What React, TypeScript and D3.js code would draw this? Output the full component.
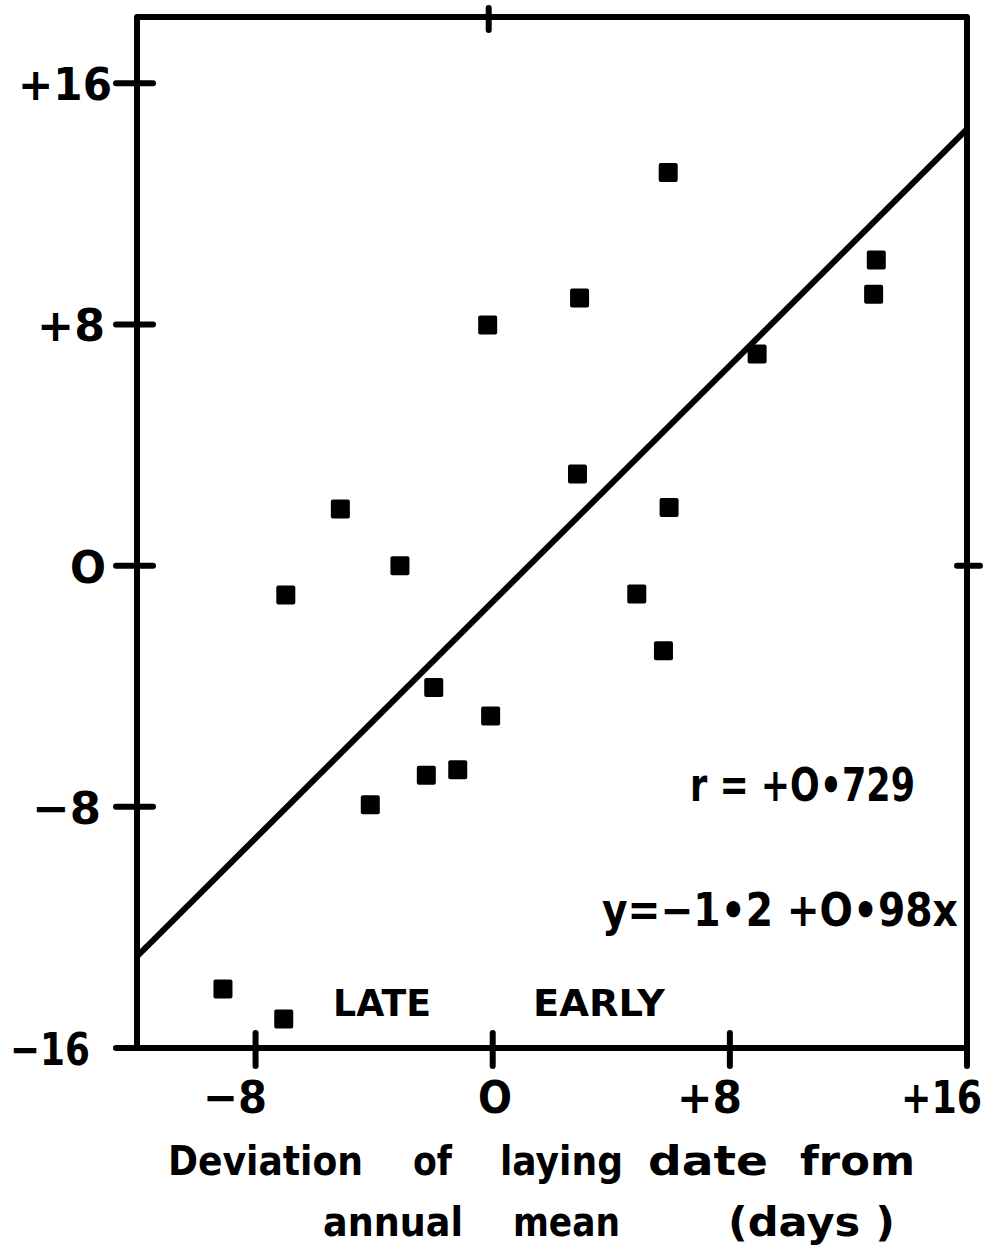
import React, { useLayoutEffect, useRef, useState } from "react";
import * as d3 from "d3";

// Deviation of laying date from annual mean (days)
const xValues = [-9.1, -7.05, -6.98, -5.14, -3.13, -4.13, -2.24, -1.99, -1.18, -0.07, -0.17, 2.93, 2.86, 5.92, 5.95, 4.86, 5.76, 8.92, 12.94, 12.85];
const yValues = [-14.04, -15.04, -0.97, 1.88, 0, -7.93, -6.95, -4.04, -6.77, -4.99, 7.98, 8.88, 3.04, 13.04, 1.93, -0.94, -2.82, 7.02, 10.14, 9.0];

const xTicks = [-8, 0, 8, 16];
const yTicks = [-16, -8, 0, 8, 16];
const xTickLabels = ["−8", "O", "+8", "+16"];
const yTickLabels = ["−16", "−8", "O", "+8", "+16"];

const regIntercept = -1.2;
const regSlope = 0.98;
const rLabel = "r = +O•729";
const eqLabel = "y=−1•2 +O•98x";
const lateLabel = "LATE";
const earlyLabel = "EARLY";
const titleLine1 = ["Deviation", "of", "laying", "date", "from"];
const titleLine2 = ["annual", "mean", "(days )"];

const W = 987;
const H = 1252;
const FONT = "'DejaVu Sans', sans-serif";

function FitText({ x, y, w, size, text }: { x: number; y: number; w: number; size: number; text: string }) {
  const ref = useRef<SVGTextElement>(null);
  const [s, setS] = useState(1);
  useLayoutEffect(() => {
    if (ref.current) {
      const n = ref.current.getComputedTextLength();
      if (n > 0) setS(w / n);
    }
  }, [w, text, size]);
  return (
    <text ref={ref} transform={`translate(${x},${y}) scale(${s},1)`} fontFamily={FONT} fontWeight="bold" fontSize={size}>
      {text}
    </text>
  );
}

export default function App() {
  const x = d3.scaleLinear().domain([-12, 16]).range([137, 967]);
  const y = d3.scaleLinear().domain([-16, 18.2]).range([1048, 17]);
  const left = x(-12), right = x(16), bottom = y(-16), top = y(18.2);

  const line = d3.line<number>().x((v) => x(v)).y((v) => y(regIntercept + regSlope * v));
  const regPath = line([-12, 16]) || "";

  const pts = xValues.map((v, i) => ({ x: v, y: yValues[i] }));
  const sq = 19;

  // layout for title words
  const line1X = [168, 413, 500, 648, 800];
  const line1W = [195, 39, 123, 120, 115];
  const line2X = [323, 513, 728];
  const line2W = [140, 107, 167];

  const yLabelStart = [10, 32, 70, 37, 18];
  const yLabelW = [80, 69, 36, 68, 94];
  const xLabelStart = [203, 478, 677, 901];
  const xLabelW = [64, 34, 65, 81];

  return (
    <svg width={W} height={H} viewBox={`0 0 ${W} ${H}`} style={{ display: "block", position: "absolute", left: 0, top: 0, background: "#fff" }}>
      <rect x={0} y={0} width={W} height={H} fill="#fff" />
      {/* frame */}
      <rect x={left} y={top} width={right - left} height={bottom - top} fill="none" stroke="#000" strokeWidth={6} strokeLinejoin="round" />
      {/* left ticks */}
      {yTicks.map((t) => (
        <line key={"yl" + t} x1={left - 21} x2={left + 16} y1={y(t)} y2={y(t)} stroke="#000" strokeWidth={6} strokeLinecap="round" />
      ))}
      {/* bottom ticks */}
      {xTicks.map((t) => (
        <line key={"xb" + t} x1={x(t)} x2={x(t)} y1={bottom - 15} y2={bottom + 18} stroke="#000" strokeWidth={6} strokeLinecap="round" />
      ))}
      {/* top tick at 0 and right tick at 0 */}
      <line x1={x(0) - 4} x2={x(0) - 4} y1={top - 9} y2={top + 13} stroke="#000" strokeWidth={6} strokeLinecap="round" />
      <line x1={right - 10} x2={right + 13} y1={y(0)} y2={y(0)} stroke="#000" strokeWidth={6} strokeLinecap="round" />
      {/* regression line */}
      <path d={regPath} stroke="#000" strokeWidth={6} fill="none" />
      {/* points */}
      {pts.map((p, i) => (
        <rect key={i} x={x(p.x) - sq / 2} y={y(p.y) - sq / 2} width={sq} height={sq} rx={2} fill="#000" />
      ))}
      {/* y tick labels */}
      {yTicks.map((t, i) => (
        <FitText key={"ylab" + t} x={yLabelStart[i]} y={y(t) + 17} w={yLabelW[i]} size={45} text={yTickLabels[i]} />
      ))}
      {/* x tick labels */}
      {xTicks.map((t, i) => (
        <FitText key={"xlab" + t} x={xLabelStart[i]} y={1113} w={xLabelW[i]} size={45} text={xTickLabels[i]} />
      ))}
      {/* annotations */}
      <FitText x={690} y={801} w={225} size={46} text={rLabel} />
      <FitText x={602} y={926} w={356} size={46} text={eqLabel} />
      <FitText x={333} y={1016} w={98} size={38} text={lateLabel} />
      <FitText x={533} y={1016} w={132} size={38} text={earlyLabel} />
      {/* axis title */}
      {titleLine1.map((wd, i) => (
        <FitText key={"t1" + i} x={line1X[i]} y={1175} w={line1W[i]} size={40} text={wd} />
      ))}
      {titleLine2.map((wd, i) => (
        <FitText key={"t2" + i} x={line2X[i]} y={1236} w={line2W[i]} size={40} text={wd} />
      ))}
    </svg>
  );
}
